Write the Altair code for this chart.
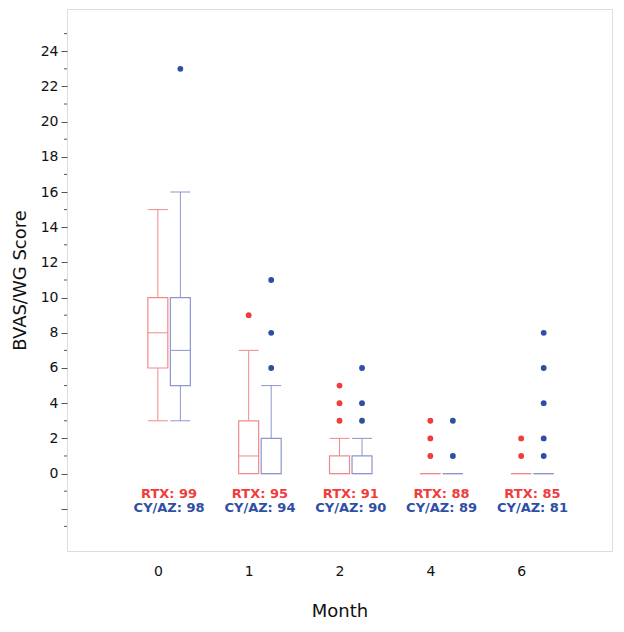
import json
import altair as alt
import pandas as pd

months = ["0", "1", "2", "4", "6"]
groups = ["RTX", "CY/AZ"]

rtx_min = [3, 0, 0, 0, 0]
rtx_q1 = [6, 0, 0, 0, 0]
rtx_med = [8, 1, 0, 0, 0]
rtx_q3 = [10, 3, 1, 0, 0]
rtx_max = [15, 7, 2, 0, 0]

cy_min = [3, 0, 0, 0, 0]
cy_q1 = [5, 0, 0, 0, 0]
cy_med = [7, 0, 0, 0, 0]
cy_q3 = [10, 2, 1, 0, 0]
cy_max = [16, 5, 2, 0, 0]

rtx_outliers = [[], [9], [3, 4, 5], [1, 2, 3], [1, 2]]
cy_outliers = [[23], [6, 8, 11], [3, 4, 6], [1, 3], [1, 2, 4, 6, 8]]

rtx_n = [99, 95, 91, 88, 85]
cy_n = [98, 94, 90, 89, 81]

RED_LINE = "#f28a8a"
BLUE_LINE = "#8d96cf"
RED_PT = "#f03c3c"
BLUE_PT = "#2f4ea6"
FONT = "DejaVu Sans"

rows = []
for i in range(len(months)):
    rows.append(dict(idx=i, group="RTX", lo=rtx_min[i], q1=rtx_q1[i], med=rtx_med[i], q3=rtx_q3[i], hi=rtx_max[i]))
    rows.append(dict(idx=i, group="CY/AZ", lo=cy_min[i], q1=cy_q1[i], med=cy_med[i], q3=cy_q3[i], hi=cy_max[i]))
box_df = pd.DataFrame(rows)

orows = []
for i in range(len(months)):
    for v in rtx_outliers[i]:
        orows.append(dict(idx=i, group="RTX", val=v))
    for v in cy_outliers[i]:
        orows.append(dict(idx=i, group="CY/AZ", val=v))
out_df = pd.DataFrame(orows)

nrows = []
for i in range(len(months)):
    nrows.append(dict(idx=i, rtx=f"RTX: {rtx_n[i]}", cy=f"CY/AZ: {cy_n[i]}"))
n_df = pd.DataFrame(nrows)

OFF = 0.248
HALF = 0.11
pos_expr = f"datum.idx + (datum.group == 'CY/AZ' ? {OFF} : 0)"

label_expr = f"{json.dumps(months)}[datum.value]"
x_scale = alt.Scale(domain=[-1, 5], nice=False, zero=False)
y_scale = alt.Scale(domain=[-4.4, 26.4], nice=False, zero=False)

x_axis = alt.Axis(values=[0, 1, 2, 3, 4], labelExpr=label_expr, title="Month",
                  ticks=False, domain=False, grid=False, labelFont=FONT, labelFontSize=14,
                  labelColor="#111", labelPadding=13, titleFont=FONT, titleFontSize=18,
                  titleFontWeight="normal", titleColor="#111", titlePadding=24)
y_axis = alt.Axis(values=list(range(-2, 25, 2)),
                  labelExpr="datum.value >= 0 ? datum.label : ''",
                  labelOverlap=False,
                  title="BVAS/WG Score", domain=False, grid=False,
                  tickSize=6, tickColor="#555", labelFont=FONT, labelFontSize=14, labelColor="#111",
                  labelPadding=3, titleFont=FONT, titleFontSize=18, titleFontWeight="normal",
                  titleColor="#111", titlePadding=11)

base = alt.Chart(box_df).transform_calculate(
    pos=pos_expr,
    xl=f"{pos_expr} - {HALF}",
    xr=f"{pos_expr} + {HALF}",
    lc=f"datum.group == 'RTX' ? '{RED_LINE}' : '{BLUE_LINE}'",
)

col = alt.Color("lc:N", scale=None)

whisk_lo = base.mark_rule(strokeWidth=1).encode(
    x=alt.X("pos:Q", scale=x_scale, axis=x_axis),
    y=alt.Y("lo:Q", scale=y_scale, axis=y_axis),
    y2="q1:Q", color=col)
whisk_hi = base.mark_rule(strokeWidth=1).encode(
    x="pos:Q", y="q3:Q", y2="hi:Q", color=col)
cap_lo = base.mark_rule(strokeWidth=1).encode(
    x="xl:Q", x2="xr:Q", y="lo:Q", color=col)
cap_hi = base.mark_rule(strokeWidth=1).encode(
    x="xl:Q", x2="xr:Q", y="hi:Q", color=col)
box = base.mark_rect(fill="white", fillOpacity=0, strokeWidth=1.2).encode(
    x="xl:Q", x2="xr:Q", y="q1:Q", y2="q3:Q",
    stroke=alt.Stroke("lc:N", scale=None))
median = base.mark_rule(strokeWidth=1).encode(
    x="xl:Q", x2="xr:Q", y="med:Q", color=col)

# minor ticks on the y axis (odd values)
minor_vals = [v for v in range(-3, 26) if v % 2 != 0]
minor_df = pd.DataFrame({"v": minor_vals})
minor = alt.Chart(minor_df).mark_rule(color="#555", strokeWidth=1).encode(
    x=alt.value(-3), x2=alt.value(0), y="v:Q")

outl = alt.Chart(out_df).transform_calculate(
    pos=pos_expr,
    pc=f"datum.group == 'RTX' ? '{RED_PT}' : '{BLUE_PT}'",
).mark_circle(size=34, opacity=1).encode(
    x="pos:Q", y="val:Q",
    color=alt.Color("pc:N", scale=None))

txt_rtx = alt.Chart(n_df).transform_calculate(pos=f"datum.idx + {OFF / 2}").mark_text(
    font=FONT, fontSize=13, fontWeight="bold", color=RED_PT).encode(
    x="pos:Q", y=alt.datum(-1.15), text="rtx:N")
txt_cy = alt.Chart(n_df).transform_calculate(pos=f"datum.idx + {OFF / 2}").mark_text(
    font=FONT, fontSize=13, fontWeight="bold", color=BLUE_PT).encode(
    x="pos:Q", y=alt.datum(-1.95), text="cy:N")

chart = alt.layer(whisk_lo, whisk_hi, cap_lo, cap_hi, box, median, minor, outl, txt_rtx, txt_cy).properties(
    width=545, height=542,
    autosize="none",
    padding={"left": 59, "top": 1, "right": 4, "bottom": 73},
).configure_view(stroke="#8f8f8f", strokeWidth=1.5).configure(background="white")

chart.save("out.html", embed_options={"renderer": "svg", "actions": False})
